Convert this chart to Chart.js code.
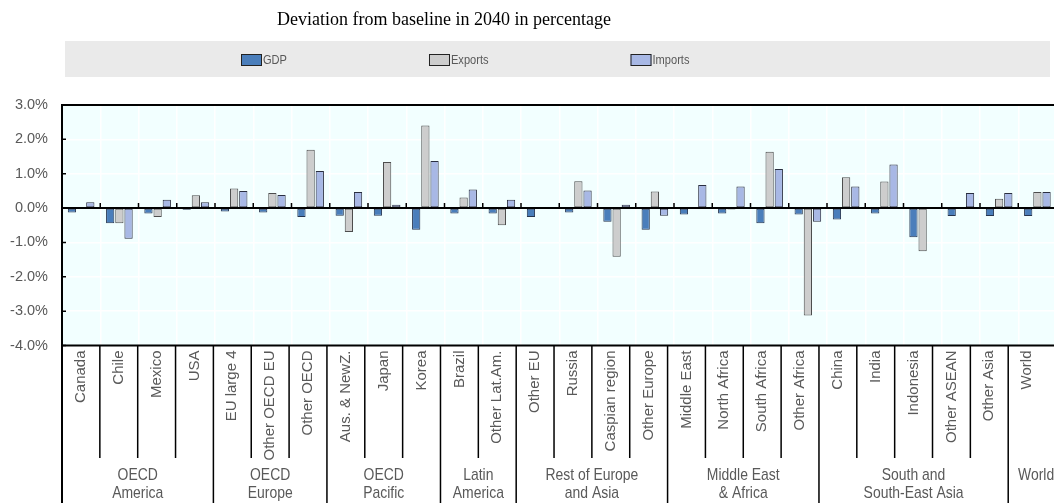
<!DOCTYPE html>
<html><head><meta charset="utf-8">
<script src="https://cdn.jsdelivr.net/npm/chart.js@4.4.1/dist/chart.umd.min.js"></script>
<style>
html,body{margin:0;padding:0;background:#fff;overflow:hidden;width:1054px;height:503px}
#wrap{position:absolute;left:0;top:0;width:1080px;height:503px}
</style>
</head><body>
<div id="wrap"><canvas id="c" width="1080" height="503"></canvas></div>
<script>
const titleText = 'Deviation from baseline in 2040 in percentage';
const categories = ['Canada','Chile','Mexico','USA','EU large 4','Other OECD EU','Other OECD','Aus. & NewZ.','Japan','Korea','Brazil','Other Lat.Am.','Other EU','Russia','Caspian region','Other Europe','Middle East','North Africa','South Africa','Other Africa','China','India','Indonesia','Other ASEAN','Other Asia','World'];
const groupLabels = [['OECD','America'],['OECD','Europe'],['OECD','Pacific'],['Latin','America'],['Rest of Europe','and Asia'],['Middle East','& Africa'],['South and','South-East Asia'],['World','']];
const groupSizes = [4,3,3,2,4,4,5,1];
const gdp     = [-0.13,-0.44,-0.16,-0.05,-0.10,-0.13,-0.26,-0.22,-0.22,-0.63,-0.16,-0.16,-0.26,-0.13,-0.40,-0.63,-0.19,-0.16,-0.44,-0.19,-0.33,-0.16,-0.85,-0.23,-0.23,-0.23];
const exportsV= [0.00,-0.44,-0.26,0.37,0.57,0.44,1.70,-0.70,1.34,2.40,0.31,-0.50,0.03,0.78,-1.42,0.48,0.03,-0.04,1.64,-3.13,0.90,0.77,-1.26,0.03,0.27,0.47];
const importsV= [0.17,-0.89,0.24,0.17,0.50,0.38,1.08,0.47,0.10,1.37,0.54,0.24,0.03,0.51,0.10,-0.22,0.67,0.63,1.14,-0.40,0.63,1.27,0.03,0.44,0.44,0.47];
const yMin = -4, yMax = 3, yStep = 1;

const SANS = '"Liberation Sans",Arial,sans-serif';
const GREY_TXT = '#595959';

function narrowText(ctx, text, x, y, sx) {
  ctx.save();
  ctx.translate(x, y);
  ctx.scale(sx, 1);
  ctx.fillText(text, 0, 0);
  ctx.restore();
}

const bgPlugin = {
  id:'bg',
  beforeDraw(chart){
    const {ctx, chartArea:a} = chart;
    ctx.save();
    ctx.fillStyle = '#F2FFFF';
    ctx.fillRect(a.left, a.top, a.right - a.left, a.bottom - a.top);
    ctx.restore();
  }
};

const decorPlugin = {
  id:'decor',
  afterLayout(chart){
    // label strip below the plot is slightly narrower than the plot itself
    const xl = chart.scales.xl;
    xl._length = xl._length * 0.9895;
    xl._endPixel = xl._startPixel + xl._length;
  },
  afterDatasetsDraw(chart){
    const {ctx, chartArea:a, scales} = chart;
    const x = scales.x, y = scales.y, xl = scales.xl;
    const n = categories.length;
    const H = chart.height;
    ctx.save();
    ctx.strokeStyle = '#000';
    ctx.lineWidth = 2;
    const y0 = y.getPixelForValue(0);
    ctx.beginPath();
    ctx.moveTo(a.left, a.top); ctx.lineTo(a.right, a.top);
    ctx.moveTo(a.left, a.bottom); ctx.lineTo(a.right, a.bottom);
    ctx.moveTo(a.left, y0); ctx.lineTo(a.right, y0);
    ctx.moveTo(a.left, a.top - 1); ctx.lineTo(a.left, H);
    ctx.stroke();
    // tick marks on zero line and on the value axis
    ctx.lineWidth = 1.5;
    ctx.beginPath();
    for (let i = 1; i < n; i++) {
      const xb = (x.getPixelForValue(i-1) + x.getPixelForValue(i)) / 2;
      ctx.moveTo(xb, y0 - 5); ctx.lineTo(xb, y0);
    }
    for (let v = yMin; v <= yMax; v += yStep) {
      const yy = y.getPixelForValue(v);
      ctx.moveTo(a.left, yy); ctx.lineTo(a.left + 4, yy);
    }
    ctx.stroke();
    // label strip dividers
    const bx = i => {
      if (i >= n) return xl._endPixel;
      return (xl.getPixelForValue(i-1) + xl.getPixelForValue(i)) / 2;
    };
    const groupStarts = new Set();
    let acc = 0;
    groupSizes.forEach(s => { acc += s; groupStarts.add(acc); });
    ctx.lineWidth = 1.5;
    ctx.beginPath();
    for (let i = 1; i < n; i++) {
      const xb = bx(i);
      ctx.moveTo(xb, a.bottom);
      ctx.lineTo(xb, groupStarts.has(i) ? H : 458);
    }
    ctx.stroke();
    // group labels
    ctx.fillStyle = GREY_TXT;
    ctx.font = '17px ' + SANS;
    ctx.textAlign = 'center';
    ctx.textBaseline = 'middle';
    let start = 0;
    groupSizes.forEach((s, gi) => {
      const left = start === 0 ? a.left : bx(start);
      const right = start + s >= n ? bx(n) + 18 : bx(start + s);
      const cx = (left + right) / 2;
      narrowText(ctx, groupLabels[gi][0], cx, 475, 0.82);
      if (groupLabels[gi][1]) narrowText(ctx, groupLabels[gi][1], cx, 493, 0.82);
      start += s;
    });
    // title
    ctx.fillStyle = '#000';
    ctx.font = '18px "Liberation Serif","Times New Roman",serif';
    ctx.textAlign = 'center';
    ctx.textBaseline = 'alphabetic';
    ctx.fillText(titleText, 444, 25);
    // legend band
    ctx.fillStyle = '#EAEAEA';
    ctx.fillRect(65, 41, 985, 36);
    ctx.font = '13.5px ' + SANS;
    ctx.textAlign = 'left';
    ctx.textBaseline = 'middle';
    let lx = 241;
    chart.data.datasets.forEach(ds => {
      ctx.fillStyle = ds.backgroundColor;
      ctx.fillRect(lx, 54, 21, 12);
      ctx.strokeStyle = '#222';
      ctx.lineWidth = 1;
      ctx.strokeRect(lx + 0.5, 54.5, 20, 11);
      ctx.fillStyle = GREY_TXT;
      narrowText(ctx, ds.label, lx + 22, 60.5, 0.82);
      lx += 22 + ctx.measureText(ds.label).width * 0.82 + 142;
    });
    ctx.restore();
  }
};

new Chart(document.getElementById('c'), {
  type:'bar',
  data:{
    labels: categories,
    datasets:[
      {label:'GDP', data:gdp, backgroundColor:'#4A7EBB', borderColor:'#26354F', borderWidth:1, borderSkipped:false},
      {label:'Exports', data:exportsV, backgroundColor:'#CDCDCD', borderColor:'#4D4D4D', borderWidth:1, borderSkipped:false},
      {label:'Imports', data:importsV, backgroundColor:'#A8B8E5', borderColor:'#2A2E40', borderWidth:1, borderSkipped:false}
    ]
  },
  options:{
    responsive:false, animation:false, devicePixelRatio:1,
    layout:{padding:{top:105, right:23.5, left:0, bottom:0}},
    plugins:{legend:{display:false}, title:{display:false}, tooltip:{enabled:false}},
    datasets:{bar:{categoryPercentage:0.72, barPercentage:0.9}},
    scales:{
      x:{type:'category', offset:true,
         grid:{color:'#FFFFFF', lineWidth:1.5, drawTicks:false, offset:true},
         border:{display:false}, ticks:{display:false},
         afterFit(s){ s.height = 0; }},
      xl:{type:'category', position:'bottom', labels:categories, offset:true,
          grid:{display:false, drawTicks:false}, border:{display:false},
          ticks:{minRotation:90, maxRotation:90, autoSkip:false, padding:5, color:GREY_TXT, font:{family:SANS, size:15}},
          afterFit(s){ s.height = 157.5; }},
      y:{min:yMin, max:yMax,
         ticks:{stepSize:yStep, callback:v => Number(v).toFixed(1) + '%', padding:14, color:GREY_TXT, font:{family:SANS, size:14.5}},
         grid:{color:'#FFFFFF', lineWidth:1.5, drawTicks:false},
         border:{display:false},
         afterFit(s){ s.width = 62; }}
    }
  },
  plugins:[bgPlugin, decorPlugin]
});
</script>
</body></html>
